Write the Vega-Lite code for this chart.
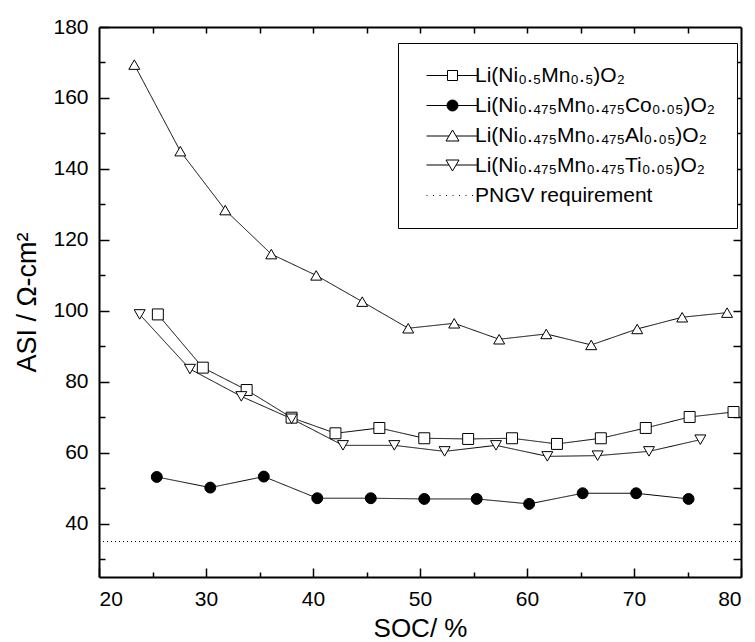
{
  "$schema": "https://vega.github.io/schema/vega-lite/v6.json",
  "width": 642,
  "height": 550,
  "autosize": "none",
  "padding": {"left": 99, "top": 27, "right": 14, "bottom": 65},
  "background": "white",
  "config": {
    "view": {"stroke": null},
    "font": "Liberation Sans",
    "axis": {"grid": false, "domainColor": "black", "domainWidth": 2, "tickColor": "black", "tickWidth": 1.5, "labelColor": "black", "titleColor": "black", "labelFont": "Liberation Sans", "titleFont": "Liberation Sans", "labelFontSize": 21, "titleFontSize": 26, "titleFontWeight": "normal"},
    "legend": {"orient": "none", "legendX": 299, "legendY": 16, "padding": 22, "rowPadding": 8,
               "strokeColor": "black", "fillColor": "white",
               "labelFont": "Liberation Sans", "labelFontSize": 21, "labelColor": "black", "labelLimit": 400,
               "symbolSize": 100, "symbolStrokeWidth": 1, "symbolStrokeColor": "black", "symbolOpacity": 1,
               "symbolOffset": 22, "labelOffset": 12}
  },
  "datasets": {
    "asi": [
      {"series": "Li(Ni₀.₅Mn₀.₅)O₂", "soc": 25.5, "asi": 99.0},
      {"series": "Li(Ni₀.₅Mn₀.₅)O₂", "soc": 29.7, "asi": 84.0},
      {"series": "Li(Ni₀.₅Mn₀.₅)O₂", "soc": 33.8, "asi": 77.7},
      {"series": "Li(Ni₀.₅Mn₀.₅)O₂", "soc": 38.0, "asi": 69.9},
      {"series": "Li(Ni₀.₅Mn₀.₅)O₂", "soc": 42.1, "asi": 65.5},
      {"series": "Li(Ni₀.₅Mn₀.₅)O₂", "soc": 46.2, "asi": 67.0},
      {"series": "Li(Ni₀.₅Mn₀.₅)O₂", "soc": 50.4, "asi": 64.1},
      {"series": "Li(Ni₀.₅Mn₀.₅)O₂", "soc": 54.5, "asi": 63.9},
      {"series": "Li(Ni₀.₅Mn₀.₅)O₂", "soc": 58.6, "asi": 64.1},
      {"series": "Li(Ni₀.₅Mn₀.₅)O₂", "soc": 62.8, "asi": 62.5},
      {"series": "Li(Ni₀.₅Mn₀.₅)O₂", "soc": 66.9, "asi": 64.1},
      {"series": "Li(Ni₀.₅Mn₀.₅)O₂", "soc": 71.1, "asi": 67.0},
      {"series": "Li(Ni₀.₅Mn₀.₅)O₂", "soc": 75.2, "asi": 70.1},
      {"series": "Li(Ni₀.₅Mn₀.₅)O₂", "soc": 79.3, "asi": 71.5},
      {"series": "Li(Ni₀.₄₇₅Mn₀.₄₇₅Co₀.₀₅)O₂", "soc": 25.4, "asi": 53.2},
      {"series": "Li(Ni₀.₄₇₅Mn₀.₄₇₅Co₀.₀₅)O₂", "soc": 30.4, "asi": 50.2},
      {"series": "Li(Ni₀.₄₇₅Mn₀.₄₇₅Co₀.₀₅)O₂", "soc": 35.4, "asi": 53.3},
      {"series": "Li(Ni₀.₄₇₅Mn₀.₄₇₅Co₀.₀₅)O₂", "soc": 40.4, "asi": 47.2},
      {"series": "Li(Ni₀.₄₇₅Mn₀.₄₇₅Co₀.₀₅)O₂", "soc": 45.4, "asi": 47.2},
      {"series": "Li(Ni₀.₄₇₅Mn₀.₄₇₅Co₀.₀₅)O₂", "soc": 50.4, "asi": 47.0},
      {"series": "Li(Ni₀.₄₇₅Mn₀.₄₇₅Co₀.₀₅)O₂", "soc": 55.3, "asi": 47.0},
      {"series": "Li(Ni₀.₄₇₅Mn₀.₄₇₅Co₀.₀₅)O₂", "soc": 60.2, "asi": 45.6},
      {"series": "Li(Ni₀.₄₇₅Mn₀.₄₇₅Co₀.₀₅)O₂", "soc": 65.2, "asi": 48.6},
      {"series": "Li(Ni₀.₄₇₅Mn₀.₄₇₅Co₀.₀₅)O₂", "soc": 70.2, "asi": 48.6},
      {"series": "Li(Ni₀.₄₇₅Mn₀.₄₇₅Co₀.₀₅)O₂", "soc": 75.1, "asi": 47.0},
      {"series": "Li(Ni₀.₄₇₅Mn₀.₄₇₅Al₀.₀₅)O₂", "soc": 23.3, "asi": 169.4},
      {"series": "Li(Ni₀.₄₇₅Mn₀.₄₇₅Al₀.₀₅)O₂", "soc": 27.6, "asi": 145.0},
      {"series": "Li(Ni₀.₄₇₅Mn₀.₄₇₅Al₀.₀₅)O₂", "soc": 31.8, "asi": 128.4},
      {"series": "Li(Ni₀.₄₇₅Mn₀.₄₇₅Al₀.₀₅)O₂", "soc": 36.1, "asi": 116.0},
      {"series": "Li(Ni₀.₄₇₅Mn₀.₄₇₅Al₀.₀₅)O₂", "soc": 40.3, "asi": 110.0},
      {"series": "Li(Ni₀.₄₇₅Mn₀.₄₇₅Al₀.₀₅)O₂", "soc": 44.6, "asi": 102.6},
      {"series": "Li(Ni₀.₄₇₅Mn₀.₄₇₅Al₀.₀₅)O₂", "soc": 48.9, "asi": 95.1},
      {"series": "Li(Ni₀.₄₇₅Mn₀.₄₇₅Al₀.₀₅)O₂", "soc": 53.2, "asi": 96.5},
      {"series": "Li(Ni₀.₄₇₅Mn₀.₄₇₅Al₀.₀₅)O₂", "soc": 57.4, "asi": 92.0},
      {"series": "Li(Ni₀.₄₇₅Mn₀.₄₇₅Al₀.₀₅)O₂", "soc": 61.8, "asi": 93.5},
      {"series": "Li(Ni₀.₄₇₅Mn₀.₄₇₅Al₀.₀₅)O₂", "soc": 66.0, "asi": 90.4},
      {"series": "Li(Ni₀.₄₇₅Mn₀.₄₇₅Al₀.₀₅)O₂", "soc": 70.3, "asi": 94.9},
      {"series": "Li(Ni₀.₄₇₅Mn₀.₄₇₅Al₀.₀₅)O₂", "soc": 74.5, "asi": 98.2},
      {"series": "Li(Ni₀.₄₇₅Mn₀.₄₇₅Al₀.₀₅)O₂", "soc": 78.7, "asi": 99.5},
      {"series": "Li(Ni₀.₄₇₅Mn₀.₄₇₅Ti₀.₀₅)O₂", "soc": 23.8, "asi": 99.0},
      {"series": "Li(Ni₀.₄₇₅Mn₀.₄₇₅Ti₀.₀₅)O₂", "soc": 28.5, "asi": 83.6},
      {"series": "Li(Ni₀.₄₇₅Mn₀.₄₇₅Ti₀.₀₅)O₂", "soc": 33.3, "asi": 75.9},
      {"series": "Li(Ni₀.₄₇₅Mn₀.₄₇₅Ti₀.₀₅)O₂", "soc": 38.0, "asi": 69.6},
      {"series": "Li(Ni₀.₄₇₅Mn₀.₄₇₅Ti₀.₀₅)O₂", "soc": 42.8, "asi": 62.1},
      {"series": "Li(Ni₀.₄₇₅Mn₀.₄₇₅Ti₀.₀₅)O₂", "soc": 47.6, "asi": 62.1},
      {"series": "Li(Ni₀.₄₇₅Mn₀.₄₇₅Ti₀.₀₅)O₂", "soc": 52.3, "asi": 60.4},
      {"series": "Li(Ni₀.₄₇₅Mn₀.₄₇₅Ti₀.₀₅)O₂", "soc": 57.1, "asi": 62.1},
      {"series": "Li(Ni₀.₄₇₅Mn₀.₄₇₅Ti₀.₀₅)O₂", "soc": 61.9, "asi": 59.0},
      {"series": "Li(Ni₀.₄₇₅Mn₀.₄₇₅Ti₀.₀₅)O₂", "soc": 66.6, "asi": 59.2},
      {"series": "Li(Ni₀.₄₇₅Mn₀.₄₇₅Ti₀.₀₅)O₂", "soc": 71.4, "asi": 60.4},
      {"series": "Li(Ni₀.₄₇₅Mn₀.₄₇₅Ti₀.₀₅)O₂", "soc": 76.2, "asi": 63.7},
      {"series": "PNGV requirement", "soc": 20, "asi": 35},
      {"series": "PNGV requirement", "soc": 80, "asi": 35}
    ]
  },
  "data": {"name": "asi"},
  "layer": [
    {
      "mark": {"type": "line", "stroke": "black", "strokeWidth": 1, "clip": true},
      "encoding": {
        "x": {"field": "soc", "type": "quantitative", "scale": {"domain": [20, 80], "nice": false, "zero": false},
              "axis": {"orient": "bottom", "values": [20, 30, 40, 50, 60, 70, 80], "tickSize": -9, "labelPadding": 20, "title": "SOC/ %", "titlePadding": 6}},
        "y": {"field": "asi", "type": "quantitative", "scale": {"domain": [25, 180], "nice": false, "zero": false},
              "axis": {"orient": "left", "values": [40, 60, 80, 100, 120, 140, 160, 180], "tickSize": -10, "labelPadding": 21, "title": "ASI / Ω-cm²", "titleFontSize": 27, "titlePadding": 11}},
        "detail": {"field": "series", "type": "nominal"},
        "strokeDash": {"field": "series", "type": "nominal", "legend": null,
          "scale": {"domain": ["Li(Ni₀.₅Mn₀.₅)O₂", "Li(Ni₀.₄₇₅Mn₀.₄₇₅Co₀.₀₅)O₂", "Li(Ni₀.₄₇₅Mn₀.₄₇₅Al₀.₀₅)O₂", "Li(Ni₀.₄₇₅Mn₀.₄₇₅Ti₀.₀₅)O₂", "PNGV requirement"],
                    "range": [[1, 0], [1, 0], [1, 0], [1, 0], [1, 3]]}}
      }
    },
    {
      "transform": [{"filter": "datum.series != 'PNGV requirement'"}],
      "mark": {"type": "point", "stroke": "black", "strokeWidth": 1, "opacity": 1},
      "encoding": {
        "x": {"field": "soc", "type": "quantitative",
              "axis": {"orient": "bottom", "values": [25, 35, 45, 55, 65, 75], "tickSize": -5, "labels": false, "domain": false, "title": null}},
        "y": {"field": "asi", "type": "quantitative",
              "axis": {"orient": "left", "values": [30, 50, 70, 90, 110, 130, 150, 170], "tickSize": -6, "labels": false, "domain": false, "title": null}},
        "shape": {"field": "series", "type": "nominal", "legend": null,
          "scale": {"domain": ["Li(Ni₀.₅Mn₀.₅)O₂", "Li(Ni₀.₄₇₅Mn₀.₄₇₅Co₀.₀₅)O₂", "Li(Ni₀.₄₇₅Mn₀.₄₇₅Al₀.₀₅)O₂", "Li(Ni₀.₄₇₅Mn₀.₄₇₅Ti₀.₀₅)O₂"],
                    "range": ["square", "circle", "triangle-up", "triangle-down"]}},
        "fill": {"field": "series", "type": "nominal", "legend": null,
          "scale": {"domain": ["Li(Ni₀.₅Mn₀.₅)O₂", "Li(Ni₀.₄₇₅Mn₀.₄₇₅Co₀.₀₅)O₂", "Li(Ni₀.₄₇₅Mn₀.₄₇₅Al₀.₀₅)O₂", "Li(Ni₀.₄₇₅Mn₀.₄₇₅Ti₀.₀₅)O₂"],
                    "range": ["white", "black", "white", "white"]}},
        "size": {"field": "series", "type": "nominal", "legend": null,
          "scale": {"domain": ["Li(Ni₀.₅Mn₀.₅)O₂", "Li(Ni₀.₄₇₅Mn₀.₄₇₅Co₀.₀₅)O₂", "Li(Ni₀.₄₇₅Mn₀.₄₇₅Al₀.₀₅)O₂", "Li(Ni₀.₄₇₅Mn₀.₄₇₅Ti₀.₀₅)O₂"],
                    "range": [120, 120, 210, 210]}}
      }
    },
    {
      "transform": [{"filter": "datum.series == 'none'"}],
      "mark": {"type": "point", "strokeWidth": 1, "opacity": 1},
      "encoding": {
        "x": {"field": "soc", "type": "quantitative",
              "axis": {"orient": "top", "values": [25, 30, 35, 40, 45, 50, 55, 60, 65, 70, 75], "tickSize": -6, "labels": false, "title": null}},
        "y": {"field": "asi", "type": "quantitative",
              "axis": {"orient": "right", "values": [30, 40, 50, 60, 70, 80, 90, 100, 110, 120, 130, 140, 150, 160, 170], "tickSize": -8, "labels": false, "title": null}},
        "shape": {"field": "series", "type": "nominal",
          "scale": {"domain": ["Li(Ni₀.₅Mn₀.₅)O₂", "Li(Ni₀.₄₇₅Mn₀.₄₇₅Co₀.₀₅)O₂", "Li(Ni₀.₄₇₅Mn₀.₄₇₅Al₀.₀₅)O₂", "Li(Ni₀.₄₇₅Mn₀.₄₇₅Ti₀.₀₅)O₂", "PNGV requirement"],
                    "range": [
                      "M-5.2,0H-1M1,0H5.2M-1,-1H1V1H-1Z",
                      "M-5.2,0H-1.1M1.1,0H5.2M-1.1,0A1.1,1.1,0,1,1,1.1,0A1.1,1.1,0,1,1,-1.1,0Z",
                      "M-5.2,0.1H-0.7M0.7,0.1H5.2M0,-1.1L1.3,1.1L-1.3,1.1Z",
                      "M-5.2,-0.1H-0.7M0.7,-0.1H5.2M0,1.1L1.3,-1.1L-1.3,-1.1Z",
                      "M-5.2,0h0.2M-3.9,0h0.2M-2.6,0h0.2M-1.3,0h0.2M0,0h0.2M1.3,0h0.2M2.6,0h0.2M3.9,0h0.2M5.0,0h0.2"
                    ]},
          "legend": {"title": null}},
        "fill": {"field": "series", "type": "nominal",
          "scale": {"domain": ["Li(Ni₀.₅Mn₀.₅)O₂", "Li(Ni₀.₄₇₅Mn₀.₄₇₅Co₀.₀₅)O₂", "Li(Ni₀.₄₇₅Mn₀.₄₇₅Al₀.₀₅)O₂", "Li(Ni₀.₄₇₅Mn₀.₄₇₅Ti₀.₀₅)O₂", "PNGV requirement"],
                    "range": ["white", "black", "white", "white", "transparent"]},
          "legend": {"title": null}},
        "stroke": {"field": "series", "type": "nominal",
          "scale": {"domain": ["Li(Ni₀.₅Mn₀.₅)O₂", "Li(Ni₀.₄₇₅Mn₀.₄₇₅Co₀.₀₅)O₂", "Li(Ni₀.₄₇₅Mn₀.₄₇₅Al₀.₀₅)O₂", "Li(Ni₀.₄₇₅Mn₀.₄₇₅Ti₀.₀₅)O₂", "PNGV requirement"],
                    "range": ["black", "black", "black", "black", "black"]},
          "legend": {"title": null}}
      }
    }
  ],
  "resolve": {
    "scale": {"shape": "independent", "fill": "independent", "stroke": "independent"},
    "axis": {"x": "independent", "y": "independent"}
  }
}
